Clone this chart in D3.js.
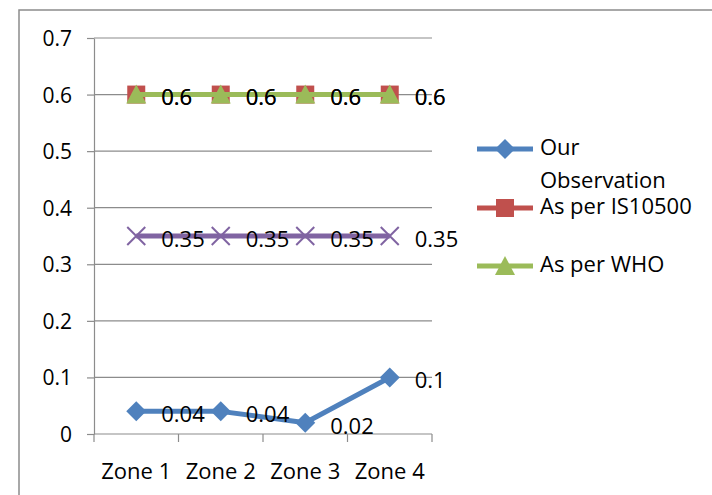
<!DOCTYPE html>
<html>
<head>
<meta charset="utf-8">
<script src="https://cdn.jsdelivr.net/npm/d3@7"></script>
<style>
  html, body { margin: 0; padding: 0; background: #fff; }
  svg { display: block; font-family: "Open Sans", sans-serif; }
</style>
</head>
<body>
<svg id="chart" width="712" height="495"></svg>
<script>
// Zones on the horizontal axis
const zones = ["Zone 1", "Zone 2", "Zone 3", "Zone 4"];

// Measured concentration per zone
const ourObservation = [0.04, 0.04, 0.02, 0.1];
// Permissible limit, IS 10500
const isLimit = [0.6, 0.6, 0.6, 0.6];
// WHO guideline value
const whoLimit = [0.6, 0.6, 0.6, 0.6];
// Desirable limit series (no legend entry)
const desirable = [0.35, 0.35, 0.35, 0.35];

const yTicks = [0, 0.1, 0.2, 0.3, 0.4, 0.5, 0.6, 0.7];

const series = [
  { name: "As per IS10500", values: isLimit, color: "#C0504D", marker: "square" },
  { name: "As per WHO", values: whoLimit, color: "#9BBB59", marker: "triangle" },
  { name: "Desirable", values: desirable, color: "#8064A2", marker: "x" },
  { name: "Our Observation", values: ourObservation, color: "#4F81BD", marker: "diamond" }
];

const svg = d3.select("#chart");

// outer chart frame
svg.append("rect")
  .attr("x", 19).attr("y", 10)
  .attr("width", 760).attr("height", 560)
  .attr("fill", "none").attr("stroke", "#8c8c8c").attr("stroke-width", 1.5);

const plot = { left: 94, right: 432, top: 38, bottom: 434 };

const x = d3.scaleBand().domain(zones).range([plot.left, plot.right]);
const y = d3.scaleLinear().domain([0, 0.7]).range([plot.bottom, plot.top]);

// horizontal gridlines
svg.append("g").selectAll("line").data(yTicks.filter(d => d > 0)).join("line")
  .attr("x1", plot.left).attr("x2", plot.right)
  .attr("y1", d => y(d)).attr("y2", d => y(d))
  .attr("stroke", "#8c8c8c").attr("stroke-width", 1.2);

// y axis
const yAxis = svg.append("g")
  .attr("transform", `translate(${plot.left},0)`)
  .call(d3.axisLeft(y).tickValues(yTicks).tickSize(7).tickSizeOuter(0).tickPadding(15)
    .tickFormat(d => d === 0 ? "0" : d3.format(".1f")(d)));
yAxis.select(".domain").attr("stroke", "#8c8c8c").attr("stroke-width", 1.2);
yAxis.selectAll(".tick line").attr("stroke", "#8c8c8c").attr("stroke-width", 1.2);
yAxis.selectAll(".tick text").attr("font-size", 21).attr("fill", "#000")
  .attr("font-family", "Open Sans").attr("dy", "0.36em");

// x axis with ticks at category boundaries
const xAxis = svg.append("g").attr("transform", `translate(0,${plot.bottom})`);
xAxis.append("line")
  .attr("x1", plot.left).attr("x2", plot.right)
  .attr("stroke", "#8c8c8c").attr("stroke-width", 1.2);
const bounds = zones.map(z => x(z)).concat([x(zones[zones.length - 1]) + x.bandwidth()]);
xAxis.selectAll("line.tk").data(bounds).join("line").attr("class", "tk")
  .attr("x1", d => d).attr("x2", d => d).attr("y1", 0).attr("y2", 8)
  .attr("stroke", "#8c8c8c").attr("stroke-width", 1.2);
xAxis.selectAll("text").data(zones).join("text")
  .attr("x", d => x(d) + x.bandwidth() / 2).attr("y", 45)
  .attr("text-anchor", "middle").attr("font-size", 22).attr("fill", "#000")
  .text(d => d);

const cx = d => x(d) + x.bandwidth() / 2;

function drawMarker(g, type, color, px, py) {
  if (type === "square") {
    g.append("rect").attr("x", px - 9).attr("y", py - 9).attr("width", 18).attr("height", 18)
      .attr("fill", color);
  } else if (type === "triangle") {
    g.append("path").attr("d", `M${px},${py - 10}L${px + 10},${py + 9}L${px - 10},${py + 9}Z`)
      .attr("fill", color);
  } else if (type === "diamond") {
    g.append("path").attr("d", `M${px},${py - 10}L${px + 10},${py}L${px},${py + 10}L${px - 10},${py}Z`)
      .attr("fill", color);
  } else if (type === "x") {
    g.append("path").attr("d", `M${px - 9},${py - 9}L${px + 9},${py + 9}M${px - 9},${py + 9}L${px + 9},${py - 9}`)
      .attr("stroke", color).attr("stroke-width", 2).attr("fill", "none");
  }
}

const line = d3.line().x((d, i) => cx(zones[i])).y(d => y(d));

// series lines and markers
series.forEach(s => {
  const g = svg.append("g");
  g.append("path").datum(s.values).attr("d", line)
    .attr("fill", "none").attr("stroke", s.color).attr("stroke-width", 5)
    .attr("stroke-linejoin", "round");
  s.values.forEach((v, i) => drawMarker(g, s.marker, s.color, cx(zones[i]), y(v)));
});

// value labels to the right of each point
series.forEach(s => {
  svg.append("g").selectAll("text").data(s.values).join("text")
    .attr("x", (d, i) => cx(zones[i]) + 25)
    .attr("y", d => y(d) + 5)
    .attr("dominant-baseline", "middle")
    .attr("font-size", 22).attr("fill", "#000")
    .text(d => String(d));
});

// legend
const legendItems = [
  { s: series[3], y: 149, lines: ["Our", "Observation"] },
  { s: series[0], y: 208, lines: ["As per IS10500"] },
  { s: series[1], y: 266, lines: ["As per WHO"] }
];
legendItems.forEach(item => {
  const g = svg.append("g");
  g.append("line").attr("x1", 477).attr("x2", 533).attr("y1", item.y).attr("y2", item.y)
    .attr("stroke", item.s.color).attr("stroke-width", 5);
  drawMarker(g, item.s.marker, item.s.color, 505, item.y);
  item.lines.forEach((t, k) => {
    g.append("text").attr("x", 540).attr("y", item.y + k * 33)
      .attr("dominant-baseline", "middle").attr("font-size", 22).attr("fill", "#000").text(t);
  });
});
</script>
</body>
</html>
